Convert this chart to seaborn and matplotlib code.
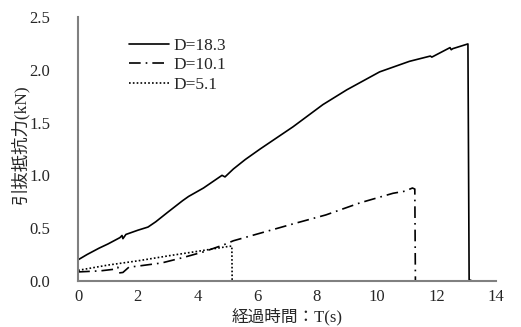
import numpy as np
import pandas as pd
import seaborn as sns
from matplotlib import pyplot as plt

# D=18.3 (solid)
t_183 = [0, 0.3, 0.7, 1.0, 1.4, 1.47, 1.5, 1.6, 2.0, 2.34, 2.6, 3.0, 3.5, 3.7, 4.2,
         4.82, 4.92, 5.2, 5.6, 6.1, 7.2, 8.2, 9.0, 10.1, 11.1, 11.8, 11.85, 12.46,
         12.5, 12.55, 13.06, 13.1, 13.2, 13.4]
f_183 = [0.2, 0.25, 0.31, 0.35, 0.41, 0.43, 0.40, 0.44, 0.48, 0.51, 0.56, 0.65, 0.76,
         0.80, 0.88, 1.0, 0.985, 1.06, 1.15, 1.25, 1.46, 1.67, 1.81, 1.98, 2.08, 2.13,
         2.12, 2.21, 2.19, 2.20, 2.245, 0.01, 0.0, 0.0]

# D=10.1 (dash-dot)
t_101 = [0, 0.74, 1.2, 1.33, 1.36, 1.5, 1.7, 2.0, 2.8, 3.5, 4.2, 4.86, 5.2, 6.2,
         7.2, 8.3, 9.45, 10.55, 10.95, 11.2, 11.28, 11.3]
f_101 = [0.085, 0.095, 0.11, 0.13, 0.075, 0.08, 0.13, 0.14, 0.17, 0.22, 0.275, 0.34,
         0.38, 0.46, 0.54, 0.625, 0.74, 0.83, 0.85, 0.88, 0.87, 0.0]

# D=5.1 (dotted)
t_51 = [0, 1.0, 2.0, 3.08, 4.0, 5.0, 5.15, 5.16]
f_51 = [0.10, 0.15, 0.19, 0.24, 0.28, 0.325, 0.33, 0.0]

labels = ['D=18.3', 'D=10.1', 'D=5.1']
x_ticks = [0, 2, 4, 6, 8, 10, 12, 14]
y_ticks = [0.0, 0.5, 1.0, 1.5, 2.0, 2.5]

sns.set_style('white')
plt.rcParams['font.family'] = ['Liberation Serif', 'Noto Sans CJK JP']
plt.rcParams['font.size'] = 12

fig = plt.figure(figsize=(5.21, 3.27), dpi=100)
ax = fig.add_axes([0.15, 0.141, 0.802, 0.807])

styles = ['-', (0, (7, 3, 1, 3)), (0, (1, 1.3))]
for (t, f), lab, ls in zip([(t_183, f_183), (t_101, f_101), (t_51, f_51)], labels, styles):
    df = pd.DataFrame({'t': t, 'f': f})
    sns.lineplot(data=df, x='t', y='f', sort=False, estimator=None, color='black',
                 linewidth=1.2, linestyle=ls, label=lab, ax=ax)

ax.set_xlim(0, 14)
ax.set_ylim(0, 2.5)
ax.set_xticks(x_ticks)
ax.set_xticklabels([str(v) for v in x_ticks])
ax.set_yticks(y_ticks)
ax.set_yticklabels(['%.1f' % v for v in y_ticks])
ax.set_xlabel('経過時間：T(s)', fontsize=12)
ax.set_ylabel('引抜抵抗力(kN)', fontsize=12.5)
ax.xaxis.set_label_coords(0.5, -0.102)
ax.yaxis.set_label_coords(-0.118, 0.517)

for s in ['top', 'right']:
    ax.spines[s].set_visible(False)
for s in ['left', 'bottom']:
    ax.spines[s].set_color('#808080')
    ax.spines[s].set_linewidth(1.5)
ax.tick_params(direction='in', length=5, width=1, color='#808080', labelsize=12)
ax.tick_params(axis='x', pad=6)
ax.tick_params(axis='y', pad=20)

ax.legend(loc='upper left', bbox_to_anchor=(0.1, 0.955), frameon=False,
          handlelength=2.3, handletextpad=0.3, labelspacing=0.2, borderpad=0,
          fontsize=12.5)

plt.savefig('out.png', dpi=100)
plt.close()
